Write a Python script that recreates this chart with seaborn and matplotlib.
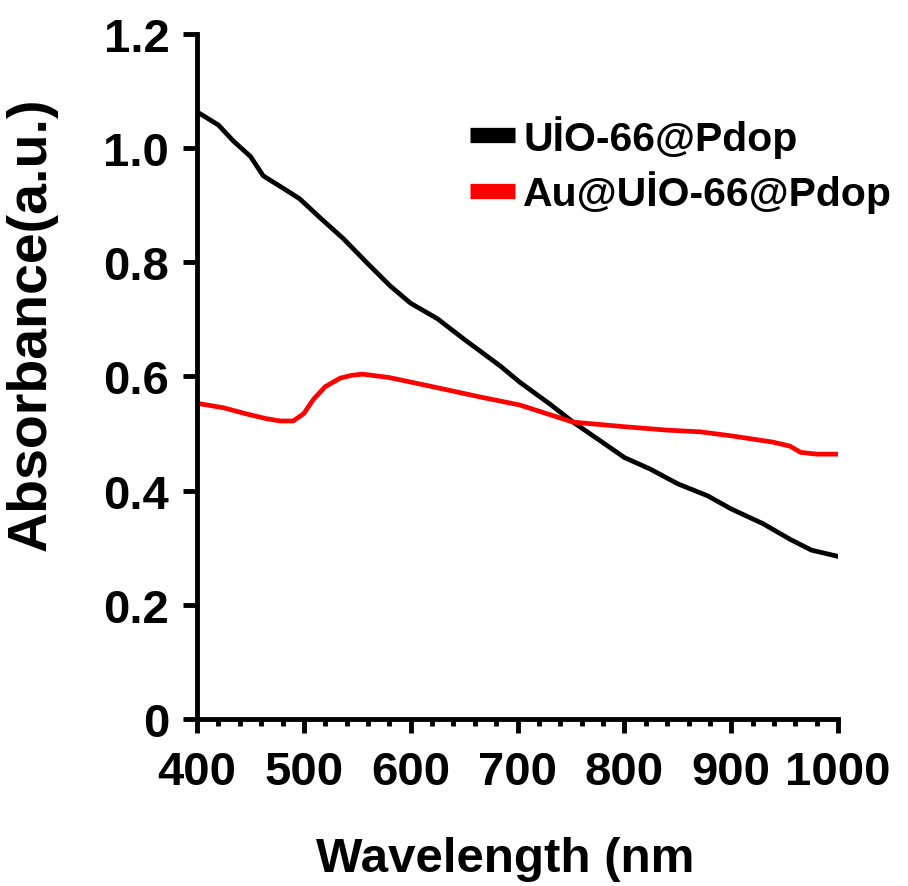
import numpy as np
import pandas as pd
import seaborn as sns
import matplotlib
matplotlib.use('Agg')
import matplotlib.pyplot as plt
from matplotlib.ticker import MultipleLocator, FuncFormatter

# 数据 - 吸收光谱
black_wl = [400, 420, 434, 450, 462, 480, 496, 515, 537, 560, 581, 600, 625, 650, 684, 702,
            730, 752, 780, 800, 824, 850, 878, 900, 930, 955, 975, 1000]
black_abs = [1.063, 1.040, 1.012, 0.985, 0.951, 0.930, 0.911, 0.878, 0.841, 0.797, 0.758, 0.728,
             0.701, 0.665, 0.618, 0.590, 0.552, 0.520, 0.484, 0.458, 0.438, 0.412, 0.391, 0.368,
             0.342, 0.315, 0.296, 0.285]
red_wl = [400, 425, 447, 465, 478, 490, 500, 509, 520, 534, 545, 555, 580, 618, 665, 702,
          752, 800, 840, 871, 900, 939, 955, 965, 980, 1000]
red_abs = [0.553, 0.545, 0.534, 0.526, 0.522, 0.522, 0.535, 0.560, 0.582, 0.597, 0.602, 0.604,
           0.598, 0.583, 0.564, 0.550, 0.520, 0.512, 0.506, 0.503, 0.496, 0.485, 0.478, 0.467,
           0.464, 0.464]
series_names = ['UİO-66@Pdop', 'Au@UİO-66@Pdop']
series_colors = ['black', 'red']

sns.set_style('ticks')
plt.rcParams['font.family'] = ['Liberation Sans', 'DejaVu Sans']
plt.rcParams['font.weight'] = 'bold'
plt.rcParams['text.color'] = 'black'
plt.rcParams['axes.labelcolor'] = 'black'

fig = plt.figure(figsize=(9.08, 8.87), dpi=100)
ax = fig.add_axes([0.217, 0.188, 0.706, 0.773])

df_black = pd.DataFrame({'wl': black_wl, 'abs': black_abs})
df_red = pd.DataFrame({'wl': red_wl, 'abs': red_abs})
sns.lineplot(data=df_black, x='wl', y='abs', color=series_colors[0], linewidth=3.4,
             label=series_names[0], ax=ax)
sns.lineplot(data=df_red, x='wl', y='abs', color=series_colors[1], linewidth=3.4,
             label=series_names[1], ax=ax)

ax.set_xlim(400, 1000)
ax.set_ylim(0, 1.2)
ax.xaxis.set_major_locator(MultipleLocator(100))
ax.xaxis.set_minor_locator(MultipleLocator(20))
ax.yaxis.set_major_locator(MultipleLocator(0.2))
ax.yaxis.set_major_formatter(FuncFormatter(lambda v, p: '0' if abs(v) < 1e-9 else f'{v:.1f}'))

for s in ['top', 'right']:
    ax.spines[s].set_visible(False)
for s in ['left', 'bottom']:
    ax.spines[s].set_linewidth(3.5)
    ax.spines[s].set_color('black')

ax.tick_params(axis='both', which='major', direction='out', length=10, width=3.5,
               labelsize=34, colors='black', labelcolor='black')
ax.tick_params(axis='x', which='major', pad=12)
ax.tick_params(axis='y', which='major', pad=10)
ax.tick_params(axis='x', which='minor', direction='out', length=5, width=3.5, colors='black')
for lab in ax.get_xticklabels() + ax.get_yticklabels():
    lab.set_fontweight('bold')

ax.set_xlabel('Wavelength (nm', fontsize=35.5, fontweight='bold')
ax.xaxis.set_label_coords(0.481, -0.17)
ax.set_ylabel('Absorbance(a.u.)', fontsize=40, fontweight='bold')
ax.yaxis.set_label_coords(-0.218, 0.577)

leg = ax.legend(loc='upper left', bbox_to_anchor=(470 / 908, 1 - 116 / 887),
                bbox_transform=fig.transFigure, frameon=False,
                handlelength=1.1, handletextpad=0.2, labelspacing=0.3,
                borderpad=0, borderaxespad=0, prop={'weight': 'bold', 'size': 29.5})
for h in leg.get_lines():
    h.set_linewidth(11)
    h.set_solid_capstyle('butt')
for t in leg.get_texts():
    t.set_color('black')

fig.savefig('out.png', dpi=100, facecolor='white')
